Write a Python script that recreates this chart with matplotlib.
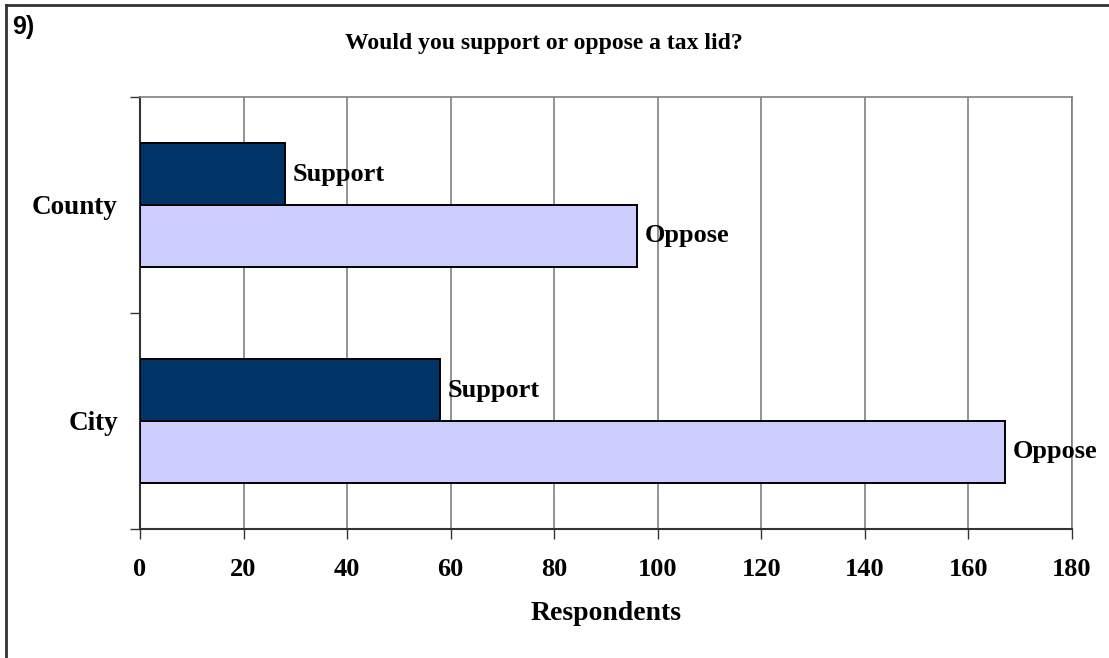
import matplotlib
matplotlib.use('Agg')
import matplotlib.pyplot as plt
from matplotlib.lines import Line2D

# survey answers, respondent counts
places = ["City", "County"]
support = [58, 28]
oppose = [167, 96]
xticks = [0, 20, 40, 60, 80, 100, 120, 140, 160, 180]

SERIF = "Liberation Serif"
BAR_H = 0.287

fig = plt.figure(figsize=(11.09, 6.58), dpi=100)
ax = fig.add_axes([140 / 1109, 1 - 529 / 658, 932 / 1109, 432 / 658])

pos = list(range(len(places)))
sup_y = [p + BAR_H / 2 for p in pos]
opp_y = [p - BAR_H / 2 for p in pos]

ax.barh(sup_y, support, height=BAR_H, color="#003366", edgecolor="black", linewidth=1.4, zorder=3)
ax.barh(opp_y, oppose, height=BAR_H, color="#CCCCFF", edgecolor="black", linewidth=1.4, zorder=3)

for y, v in zip(sup_y, support):
    ax.annotate("Support", (v, y), xytext=(5.5, 0), textcoords="offset points",
                va="center", ha="left", fontsize=19, fontweight="bold", family=SERIF, zorder=4)
for y, v in zip(opp_y, oppose):
    ax.annotate("Oppose", (v, y), xytext=(5.5, 0), textcoords="offset points",
                va="center", ha="left", fontsize=19, fontweight="bold", family=SERIF, zorder=4)

ax.set_xlim(0, 180)
ax.set_ylim(-0.5, 1.5)
ax.set_xticks(xticks)
ax.set_xticklabels([str(t) for t in xticks], fontsize=19, fontweight="bold", family=SERIF)
ax.set_yticks([-0.5, 0.5, 1.5])
ax.set_yticklabels([])
ax.set_yticks(pos, minor=True)
ax.set_yticklabels(places, minor=True, fontsize=19.5, fontweight="bold", family=SERIF)
ax.tick_params(axis="y", which="minor", length=0, pad=16)
ax.tick_params(axis="y", which="major", length=7, width=1, color="#333333")
ax.tick_params(axis="x", length=7, width=1, color="#333333", pad=14)

ax.xaxis.grid(True, color="#808080", linewidth=1.2, zorder=0)
ax.set_axisbelow(True)

for s in ["left", "bottom"]:
    ax.spines[s].set_color("#333333")
    ax.spines[s].set_linewidth(1.5)
for s in ["top", "right"]:
    ax.spines[s].set_color("#808080")
    ax.spines[s].set_linewidth(1.2)

ax.set_xlabel("Respondents", fontsize=20, fontweight="bold", family=SERIF, labelpad=14)

fig.text(544 / 1109, 1 - 43 / 658, "Would you support or oppose a tax lid?", ha="center", va="center",
         fontsize=17, fontweight="bold", family=SERIF)
fig.text(12 / 1109, 1 - 27 / 658, "9)", ha="left", va="center",
         fontsize=18, fontweight="bold", family="Liberation Sans")

# frame around the question: left and top edges only
fig.add_artist(Line2D([6 / 1109, 6 / 1109], [0, 1 - 5 / 658], transform=fig.transFigure,
                      color="#333333", linewidth=2))
fig.add_artist(Line2D([6 / 1109, 1], [1 - 5 / 658, 1 - 5 / 658], transform=fig.transFigure,
                      color="#333333", linewidth=2))

fig.savefig("out.png", dpi=100)
